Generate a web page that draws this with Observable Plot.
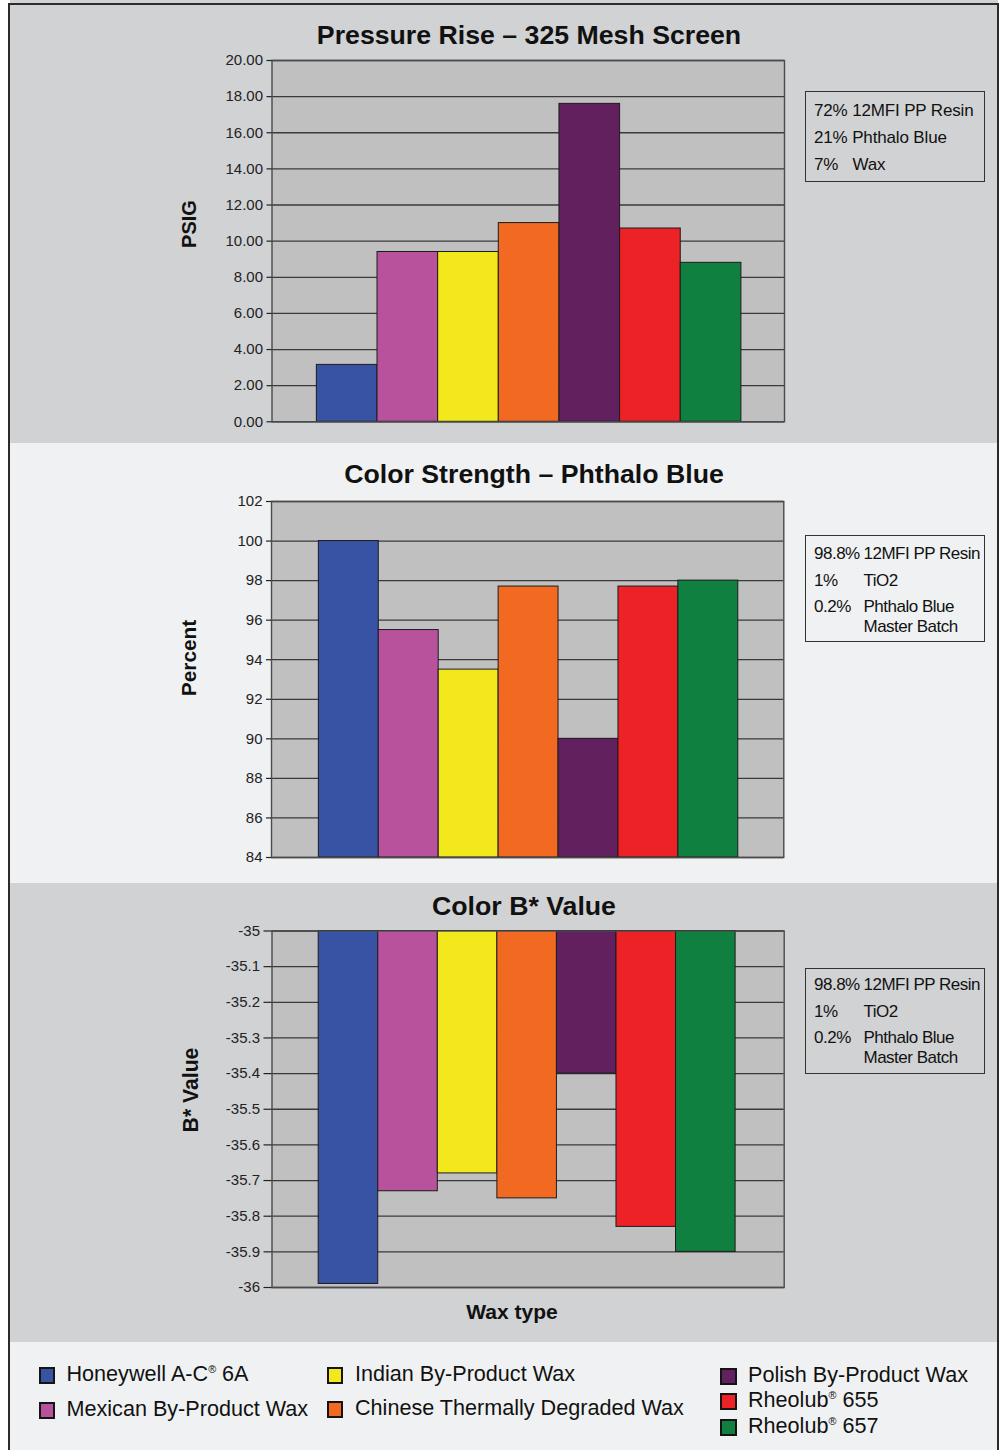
<!DOCTYPE html>
<html><head><meta charset="utf-8">
<script src="https://cdn.jsdelivr.net/npm/d3@7"></script>
<script src="https://cdn.jsdelivr.net/npm/@observablehq/plot@0.6"></script>
<style>
html,body{margin:0;padding:0;background:#fff;}
#page{position:relative;width:1003px;height:1450px;overflow:hidden;font-family:"Liberation Sans",Arial,Helvetica,sans-serif;color:#111;}
.abs{position:absolute;white-space:nowrap;}
sup{font-size:0.5em;vertical-align:0;position:relative;top:-0.75em;}
</style></head><body><div id="page"></div>
<script>
// ---------- data ----------
const waxes = ["Honeywell A-C® 6A", "Mexican By-Product Wax", "Indian By-Product Wax",
  "Chinese Thermally Degraded Wax", "Polish By-Product Wax", "Rheolub® 655", "Rheolub® 657"];
const waxColors = ["#3953a4", "#b8529d", "#f2e81c", "#f26a22", "#62205f", "#ec2226", "#0f8040"];
const pressureRise = [3.15, 9.4, 9.4, 11.0, 17.6, 10.7, 8.8];
const colorStrength = [100.0, 95.5, 93.5, 97.7, 90.0, 97.7, 98.0];
const bValue = [-35.99, -35.73, -35.68, -35.75, -35.40, -35.83, -35.90];
const pressureTicks = [0, 2, 4, 6, 8, 10, 12, 14, 16, 18, 20];
const pressureTickLabels = ["0.00","2.00","4.00","6.00","8.00","10.00","12.00","14.00","16.00","18.00","20.00"];
const strengthTicks = [84, 86, 88, 90, 92, 94, 96, 98, 100, 102];
const strengthTickLabels = ["84","86","88","90","92","94","96","98","100","102"];
const bTicks = [-36, -35.9, -35.8, -35.7, -35.6, -35.5, -35.4, -35.3, -35.2, -35.1, -35];
const bTickLabels = ["-36","-35.9","-35.8","-35.7","-35.6","-35.5","-35.4","-35.3","-35.2","-35.1","-35"];
const titles = ["Pressure Rise – 325 Mesh Screen", "Color Strength – Phthalo Blue", "Color B* Value"];
const yLabels = ["PSIG", "Percent", "B* Value"];
const xLabel = "Wax type";
const note1 = [["72% 12MFI PP Resin", ""], ["21% Phthalo Blue", ""], ["7%", "Wax"]];
const note2 = [["98.8%", "12MFI PP Resin"], ["1%", "TiO2"], ["0.2%", "Phthalo Blue"], ["", "Master Batch"]];

// ---------- helpers ----------
const page = document.getElementById("page");
const FONT = '"Liberation Sans", Arial, Helvetica, sans-serif';
function box(l, t, w, h, css) {
  const d = document.createElement("div");
  d.className = "abs";
  Object.assign(d.style, {left: l + "px", top: t + "px", width: w + "px", height: h + "px", boxSizing: "border-box"}, css || {});
  page.appendChild(d);
  return d;
}
function txt(html, x, base, size, o = {}) {
  const d = document.createElement("div");
  d.className = "abs";
  d.innerHTML = html;
  d.style.fontSize = size + "px";
  d.style.lineHeight = size + "px";
  d.style.top = (base - 0.8465 * size) + "px";
  d.style.left = x + "px";
  if (o.weight) d.style.fontWeight = o.weight;
  if (o.anchor === "middle") d.style.transform = "translateX(-50%)";
  if (o.ls) d.style.letterSpacing = o.ls;
  d.style.color = o.color || "#111";
  page.appendChild(d);
  return d;
}
function vlabel(s, cx, cy, size) {
  const d = document.createElement("div");
  d.className = "abs";
  d.textContent = s;
  Object.assign(d.style, {fontSize: size + "px", lineHeight: size + "px", fontWeight: "bold", left: cx + "px", top: cy + "px",
    transform: "translate(-50%,-50%) rotate(-90deg)", color: "#111"});
  page.appendChild(d);
}
const sup = s => s.replace(/®/g, "<sup>®</sup>");

// ---------- backgrounds ----------
box(10, 0, 988, 443, {background: "#d1d2d4"});
box(10, 443, 988, 440, {background: "#f0f1f2"});
box(10, 883, 988, 459, {background: "#d1d2d4"});
box(10, 1342, 988, 120, {background: "#f0f1f2"});

// ---------- panels ----------
function panel(p) {
  const data = waxes.map((w, i) => ({wax: w, v: p.values[i]}));
  const svg = Plot.plot({
    width: 1003, height: p.height,
    marginTop: p.mt, marginBottom: p.mb, marginLeft: p.ml, marginRight: p.mr,
    style: {position: "absolute", left: "0px", top: p.top + "px", background: "transparent", overflow: "visible",
      fontFamily: FONT, fontSize: "15px", color: "#222"},
    x: {domain: waxes, paddingInner: 0, paddingOuter: p.pad, align: p.align, round: false, axis: null},
    y: {domain: p.domain},
    color: {domain: waxes, range: waxColors},
    marks: [
      Plot.frame({fill: "#c0c0c0", stroke: null}),
      Plot.ruleY(p.ticks, {stroke: "#3a3a3a", strokeWidth: 1.3}),
      Plot.barY(data, {x: "wax", y1: p.base, y2: "v", fill: "wax", stroke: "#1c1c1c", strokeWidth: 1}),
      Plot.frame({stroke: "#4a4a4a", strokeWidth: 1.4}),
      Plot.axisY({ticks: p.ticks, tickFormat: d => p.labels[p.ticks.indexOf(d)], tickSize: p.tickSize, tickPadding: 4,
        fontSize: 15, label: null, stroke: "#222", strokeWidth: 1.2})
    ]
  });
  page.appendChild(svg);
}
panel({top: 0, height: 443, mt: 60, mb: 21.7, ml: 271.5, mr: 219, values: pressureRise, domain: [0, 20], base: 0,
  ticks: pressureTicks, labels: pressureTickLabels, pad: 0.725, align: 0.51, tickSize: 5});
panel({top: 443, height: 440, mt: 58, mb: 26, ml: 271, mr: 219.7, values: colorStrength, domain: [84, 102], base: 84,
  ticks: strengthTicks, labels: strengthTickLabels, pad: 0.775, align: 0.51, tickSize: 5});
panel({top: 883, height: 459, mt: 47.5, mb: 55, ml: 271.5, mr: 219.3, values: bValue, domain: [-36, -35], base: -35,
  ticks: bTicks, labels: bTickLabels, pad: 0.8, align: 0.49, tickSize: 8});

// ---------- titles & labels ----------
txt(titles[0], 529, 44.5, 26.7, {weight: "bold", anchor: "middle"});
txt(titles[1], 534, 484, 26.7, {weight: "bold", anchor: "middle"});
txt(titles[2], 524, 916, 26.7, {weight: "bold", anchor: "middle"});
vlabel(yLabels[0], 189, 224, 20);
vlabel(yLabels[1], 189, 658, 20.8);
vlabel(yLabels[2], 191, 1090, 21.2);
txt(xLabel, 512, 1319, 21, {weight: "bold", anchor: "middle"});

// ---------- composition notes ----------
const boxCss = {border: "1.5px solid #333"};
box(805, 90.7, 180, 91.5, boxCss);
const n1base = [116, 143, 170];
note1.forEach((r, i) => {
  txt(r[0], 814, n1base[i], 17, {ls: "-0.15px"});
  if (r[1]) txt(r[1], 852.5, n1base[i], 17, {ls: "-0.15px"});
});
const noteBoxes = [{top: 535, bases: [559, 586, 612.7, 632]}, {top: 967.7, bases: [990.5, 1017, 1043.5, 1063]}];
noteBoxes.forEach(nb => {
  box(805, nb.top, 180, 106.5, boxCss);
  note2.forEach((r, i) => {
    if (r[0]) txt(r[0], 814, nb.bases[i], 17, {ls: "-0.5px"});
    if (r[1]) txt(r[1], 863.5, nb.bases[i], 17, {ls: "-0.5px"});
  });
});

// ---------- legend ----------
const legendSlots = [
  {sx: 38.5, tx: 66.5, base: 1381}, {sx: 38.5, tx: 66.5, base: 1416},
  {sx: 326.5, tx: 355, base: 1381}, {sx: 326.5, tx: 355, base: 1415},
  {sx: 720, tx: 748, base: 1382}, {sx: 720, tx: 748, base: 1407}, {sx: 720, tx: 748, base: 1433}
];
waxes.forEach((w, i) => {
  const s = legendSlots[i];
  box(s.sx, s.base - 14, 16.5, 16.5, {background: waxColors[i], border: "2px solid #141414"});
  txt(sup(w), s.tx, s.base, 21.6, {});
});

// ---------- outer border ----------
box(8, 3, 991, 1470, {border: "2.5px solid #2b2b2b"});
</script>
</body></html>
